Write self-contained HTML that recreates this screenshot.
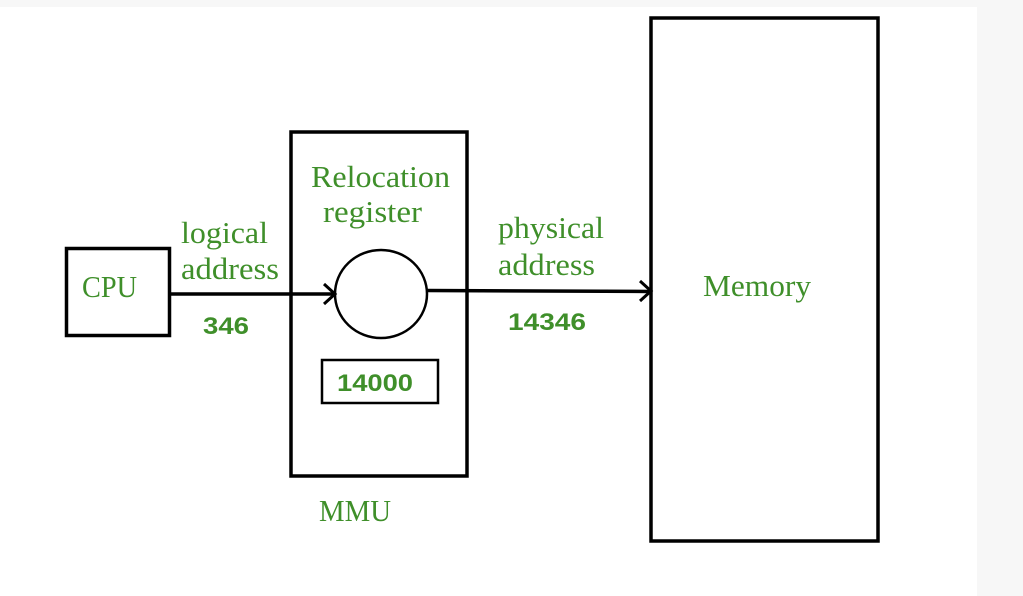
<!DOCTYPE html>
<html><head><meta charset="utf-8"><style>
html,body{margin:0;padding:0;background:#fff}
svg{display:block}
.s{font-family:"Liberation Serif",serif;font-size:31px;fill:#3f8f2a}
.b{font-family:"Liberation Sans",sans-serif;font-size:24px;font-weight:bold;fill:#3f8f2a}
</style></head><body>
<svg width="1023" height="596" viewBox="0 0 1023 596" xmlns="http://www.w3.org/2000/svg">
<rect x="0" y="0" width="1023" height="596" fill="#fff"/>
<rect x="0" y="0" width="1023" height="7" fill="#f7f7f7"/>
<rect x="977" y="0" width="46" height="596" fill="#f7f7f7"/>
<g fill="none" stroke="#000">
<rect x="66.5" y="248.5" width="103" height="87" stroke-width="3.5"/>
<rect x="291" y="132" width="176" height="344" stroke-width="3.5"/>
<rect x="651" y="18" width="227" height="523" stroke-width="3.5"/>
<ellipse cx="381" cy="294" rx="46" ry="44" stroke-width="2.5"/>
<rect x="322" y="360" width="116" height="43" stroke-width="2.5"/>
<line x1="170" y1="294" x2="335" y2="294" stroke-width="3.5"/>
<polyline points="324,284 335,294 324,304" stroke-width="3"/>
<line x1="427" y1="290.5" x2="651" y2="291.5" stroke-width="3.5"/>
<polyline points="640,281 651,291 640,301" stroke-width="3"/>
</g>
<text class="s" x="82" y="297" textLength="55" lengthAdjust="spacingAndGlyphs">CPU</text>
<text class="s" x="311" y="187" textLength="139" lengthAdjust="spacingAndGlyphs">Relocation</text>
<text class="s" x="323" y="222" textLength="99" lengthAdjust="spacingAndGlyphs">register</text>
<text class="s" x="181" y="243" textLength="87" lengthAdjust="spacingAndGlyphs">logical</text>
<text class="s" x="181" y="279" textLength="98" lengthAdjust="spacingAndGlyphs">address</text>
<text class="s" x="498" y="238" textLength="106" lengthAdjust="spacingAndGlyphs">physical</text>
<text class="s" x="498" y="275" textLength="97" lengthAdjust="spacingAndGlyphs">address</text>
<text class="s" x="703" y="296" textLength="108" lengthAdjust="spacingAndGlyphs">Memory</text>
<text class="s" x="319" y="521" textLength="72" lengthAdjust="spacingAndGlyphs">MMU</text>
<text class="b" x="203" y="334" textLength="46" lengthAdjust="spacingAndGlyphs">346</text>
<text class="b" x="508" y="330" textLength="78" lengthAdjust="spacingAndGlyphs">14346</text>
<text class="b" x="337" y="391" textLength="76" lengthAdjust="spacingAndGlyphs">14000</text>
</svg>
</body></html>
